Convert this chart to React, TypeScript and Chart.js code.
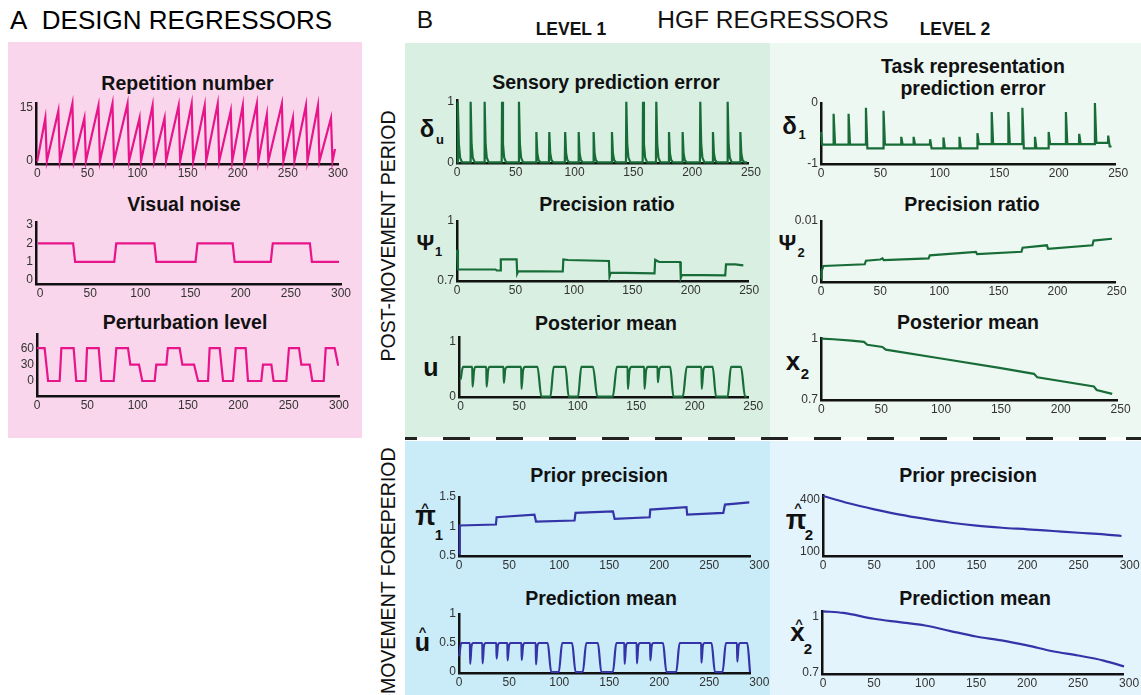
import React, { useEffect, useRef } from 'react';
import { Chart, registerables } from 'chart.js';
Chart.register(...registerables);

const FONT = '"Liberation Sans", Arial, Helvetica, sans-serif';
const PINK = 'rgb(232, 20, 138)';
const GREEN = 'rgb(24, 108, 56)';
const BLUE = 'rgb(52, 52, 168)';

type P = [number, number];

// ---------- Panel A data ----------
const ticks300 = [0, 50, 100, 150, 200, 250, 300];
const ticks250 = [0, 50, 100, 150, 200, 250];

const repetitionNumber: P[] = [
  [0, 0], [8, 12], [9.5, 0], [21, 14], [22.5, 0], [35, 16], [36.5, 0], [47, 12], [48.5, 0],
  [61, 15.5], [62.5, 0], [75, 16], [76.5, 0], [90, 16], [91.5, 0], [102, 12], [103.5, 0],
  [115, 15.5], [116.5, 0], [127, 12], [128.5, 0], [141, 15.5], [142.5, 0], [154, 16], [155.5, 0],
  [167, 15.5], [168.5, 0], [180, 16], [181.5, 0], [193, 14], [194.5, 0], [205, 15.5], [206.5, 0],
  [219, 16], [220.5, 0], [229, 13], [230.5, 0], [244, 16], [245.5, 0], [255, 12], [256.5, 0],
  [268, 15.5], [269.5, 0], [280, 15.5], [281.5, 0], [293, 12], [294.5, 0], [297, 3.4],
];

const visualNoise: P[] = [
  [-2, 2], [33, 2], [35, 1], [74, 1], [76, 2], [114, 2], [116, 1], [155, 1], [157, 2],
  [192, 2], [194, 1], [230, 1], [232, 2], [269, 2], [271, 1], [298, 1],
];

const perturbationLevel: P[] = [
  [0, 60], [7.6, 60], [11, 0], [22.5, 0], [24.2, 60], [36.4, 60], [39, 0], [48.3, 0], [49.7, 60], [61.3, 60],
  [63.9, 0], [76.2, 0], [78.8, 60], [90.4, 60], [92.7, 30], [101.3, 30], [104.6, 0], [116.9, 0], [118.5, 30], [128.5, 30],
  [130, 60], [141.7, 60], [144.4, 30], [156, 30], [160, 0], [169.9, 0], [171.5, 60], [181.5, 60], [184.8, 0], [194.7, 0],
  [197.4, 60], [207.3, 60], [209.6, 0], [222.8, 0], [224.5, 30], [232.8, 30], [235, 0], [247.7, 0], [250.3, 60], [260.3, 60],
  [262.6, 30], [270.9, 30], [273.5, 0], [284.8, 0], [286.8, 60], [295.7, 60], [299, 30], [300, 30],
];

// ---------- Panel B, post-movement ----------
// spikes: [trial, peak height]
const sensorySpikes: P[] = [
  [0.8, 1], [11.6, 1], [23.5, 1], [38.3, 1], [52.7, 1], [67.5, 0.5], [78.5, 0.5], [92, 0.5], [103.5, 0.5],
  [116.2, 0.5], [131.8, 0.5], [144, 1], [158.2, 1], [169.5, 1], [180.3, 0.5], [191.9, 0.5], [206.9, 1],
  [217.7, 0.5], [230.2, 1], [241, 0.5],
];
const sensoryEnd = 246.6;
const sensoryPE: P[] = [[0, 0]];
sensorySpikes.forEach(([x, h]) => {
  sensoryPE.push([x - 0.3, 0], [x, h], [x + 0.8, h * 0.3], [x + 1.8, h * 0.08], [x + 3.5, 0]);
});
sensoryPE.push([sensoryEnd, 0]);

const taskPE: P[] = [
  [0, -0.48], [1, -0.69],
  [10.4, -0.69], [10.6, -0.18], [11.8, -0.69],
  [23, -0.69], [23.2, -0.18], [24.4, -0.69],
  [37.6, -0.69], [37.8, -0.08], [39, -0.75],
  [52.4, -0.75], [52.6, -0.13], [53.8, -0.69],
  [67.3, -0.69], [67.5, -0.56], [68.7, -0.69],
  [77.7, -0.69], [77.9, -0.56], [79.1, -0.69],
  [91.6, -0.69], [91.8, -0.6], [93, -0.75],
  [102.8, -0.75], [103, -0.57], [104.2, -0.75],
  [116.3, -0.75], [116.5, -0.56], [117.7, -0.75],
  [131.4, -0.75], [131.6, -0.5], [132.8, -0.68],
  [143.4, -0.68], [143.6, -0.15], [144.8, -0.68],
  [157.4, -0.68], [157.6, -0.15], [158.8, -0.68],
  [169.2, -0.68], [169.4, -0.08], [170.6, -0.75],
  [179.8, -0.75], [180, -0.56], [181.2, -0.75],
  [191.3, -0.75], [191.5, -0.48], [192.7, -0.68],
  [205.8, -0.68], [206, -0.15], [207.2, -0.68],
  [217, -0.68], [217.2, -0.51], [218.4, -0.68],
  [230.2, -0.68], [230.4, 0], [231.6, -0.66],
  [241.4, -0.66], [241.6, -0.54], [242.8, -0.72],
  [244.4, -0.72],
];

const psi1: P[] = [
  [0, 0.855], [0.8, 0.755], [33, 0.755], [34, 0.75], [37, 0.75], [37.5, 0.806], [51, 0.806],
  [51.5, 0.734], [52.5, 0.747], [90.5, 0.745], [91, 0.806], [95, 0.803], [130, 0.798],
  [130.5, 0.72], [131.5, 0.739], [169, 0.736], [169.6, 0.804], [173, 0.793], [191, 0.793],
  [191.5, 0.713], [192.5, 0.728], [229.5, 0.725], [230.2, 0.781], [238, 0.781], [245, 0.776],
];

const psi2: P[] = [
  [0, 0.0003], [0.5, 0.0015], [2, 0.0024], [37, 0.0027], [38, 0.0033], [50, 0.0035], [52, 0.0037],
  [53, 0.0034], [91, 0.0037], [92, 0.0042], [131, 0.0048], [132, 0.0044], [169.5, 0.0048],
  [170.5, 0.0055], [191, 0.0059], [192, 0.0053], [229.5, 0.0059], [230.5, 0.0067], [246, 0.007],
];

const posteriorU: P[] = [
  [0, 0.31], [2, 0.54],
  [9.9, 0.54], [10.2, 0.18], [11.5, 0.48], [13, 0.54],
  [21.9, 0.54], [22.2, 0.18], [23.5, 0.48], [25, 0.54],
  [36.6, 0.54], [36.9, 0.25], [38.2, 0.5], [40, 0.54],
  [51.7, 0.54], [52, 0.14], [53.3, 0.47], [55, 0.54],
  [65.6, 0.54], [69, 0], [76.7, 0], [79.5, 0.54], [89.5, 0.54], [92.3, 0],
  [100.3, 0], [103.1, 0.54], [113, 0.54], [116.8, 0], [130, 0], [133.5, 0.54],
  [142.6, 0.54], [142.9, 0.14], [144.2, 0.47], [146, 0.54],
  [156.8, 0.54], [157.1, 0.14], [158.4, 0.47], [160, 0.54],
  [168.2, 0.54], [168.5, 0.26], [169.8, 0.5], [171.5, 0.54],
  [179, 0.54], [181.8, 0], [189.8, 0], [193.2, 0.54],
  [205.7, 0.54], [206, 0.14], [207.3, 0.47], [209, 0.54],
  [215.3, 0.54], [218.2, 0], [228.1, 0], [231, 0.54], [239.5, 0.54], [243, 0], [244.3, 0],
];

const posteriorX2: P[] = [
  [0, 1.0], [10, 0.997], [25, 0.99], [35.6, 0.984], [38.4, 0.97], [51, 0.959], [53.8, 0.946],
  [100, 0.903], [150, 0.856], [177.6, 0.828], [180.4, 0.811], [227.7, 0.766], [230, 0.749], [243, 0.73],
];

// ---------- Panel B, movement foreperiod ----------
const priorPi1: P[] = [
  [0, 0.53], [0.5, 1.017], [36.7, 1.034], [37.4, 1.157], [75.2, 1.202], [76.8, 1.084],
  [115.3, 1.101], [116.3, 1.23], [153.7, 1.258], [155.4, 1.129], [190.4, 1.157], [191, 1.287],
  [227.2, 1.326], [227.9, 1.202], [264, 1.23], [265.7, 1.371], [290, 1.41],
];

const predictionU: P[] = [
  [0, 0.27], [2, 0.5],
  [10.7, 0.5], [11, 0.14], [12.3, 0.45], [14, 0.5],
  [23.1, 0.5], [23.4, 0.15], [24.7, 0.45], [26.5, 0.5],
  [37.1, 0.5], [37.4, 0.23], [38.7, 0.46], [40.5, 0.5],
  [48.1, 0.5], [48.4, 0.2], [49.7, 0.45], [51.5, 0.5],
  [62.2, 0.5], [62.5, 0.21], [63.8, 0.45], [65.5, 0.5],
  [76.5, 0.5], [76.8, 0.13], [78.1, 0.45], [80, 0.5],
  [88.5, 0.5], [91.9, 0], [99.6, 0], [102.9, 0.5],
  [112.9, 0.5], [116.3, 0], [123.6, 0], [127, 0.5],
  [138.7, 0.5], [142, 0], [153.7, 0], [157, 0.5],
  [165.1, 0.5], [165.4, 0.14], [166.7, 0.45], [168.5, 0.5],
  [177.4, 0.5], [177.7, 0.15], [179, 0.45], [180.8, 0.5],
  [190.8, 0.5], [191.1, 0.2], [192.4, 0.45], [194.2, 0.5],
  [203.8, 0.5], [207.1, 0], [217, 0], [220.3, 0.5],
  [241.9, 0.5], [242.2, 0.16], [243.5, 0.45], [245.3, 0.5],
  [252.3, 0.5], [255.6, 0], [263.3, 0], [266.6, 0.5],
  [277.7, 0.5], [278, 0.18], [279.3, 0.45], [281, 0.5],
  [288, 0.5], [290.7, 0],
];

const priorPi2: P[] = [
  [0, 423], [25, 381], [50, 346], [75, 315], [100, 290], [125, 268], [150, 251],
  [175, 239], [200, 230], [225, 220], [250, 210], [275, 201], [292, 191],
];

const predictionX2: P[] = [
  [0, 1.027], [20, 1.018], [50, 0.987], [75, 0.969], [100, 0.951], [125, 0.921], [150, 0.892],
  [175, 0.871], [200, 0.844], [225, 0.813], [250, 0.79], [275, 0.763], [295, 0.732],
];

interface Spec {
  left: number; right: number; top: number; bottom: number;
  xMin: number; xMax: number; xTicks: number[];
  yMin: number; yMax: number; yTicks: number[];
  points: P[]; color: string; smooth?: boolean;
}

const PADL = 46, PADT = 12, PADR = 28, PADB = 22;

function MiniChart({ spec }: { spec: Spec }) {
  const ref = useRef<HTMLCanvasElement>(null);
  const w = Math.round(spec.right - spec.left + PADL + PADR);
  const h = Math.round(spec.bottom - spec.top + PADT + PADB);
  useEffect(() => {
    const chart = new Chart(ref.current as HTMLCanvasElement, {
      type: 'line',
      data: {
        datasets: [{
          data: spec.points.map(([x, y]) => ({ x, y })),
          borderColor: spec.color,
          borderWidth: 2.2,
          pointRadius: 0,
          fill: false,
          tension: 0,
          cubicInterpolationMode: spec.smooth ? 'monotone' : 'default',
          clip: false as any,
        }],
      },
      options: {
        animation: false,
        responsive: false,
        maintainAspectRatio: false,
        events: [],
        layout: { padding: { left: 0, top: PADT, right: PADR, bottom: 0 } },
        plugins: { legend: { display: false }, tooltip: { enabled: false } },
        scales: {
          x: {
            type: 'linear', min: spec.xMin, max: spec.xMax,
            afterFit: (s: any) => { s.height = PADB; },
            afterBuildTicks: (s: any) => { s.ticks = spec.xTicks.map((v) => ({ value: v })); },
            grid: { display: false, drawTicks: false },
            border: { display: true, color: '#111', width: 2.5 },
            ticks: {
              padding: 2, autoSkip: false, maxRotation: 0, color: '#333',
              font: { family: FONT, size: 12 },
              callback: (v: any) => String(v),
            },
          },
          y: {
            type: 'linear', min: spec.yMin, max: spec.yMax,
            afterFit: (s: any) => { s.width = PADL; },
            afterBuildTicks: (s: any) => { s.ticks = spec.yTicks.map((v) => ({ value: v })); },
            grid: { display: false, drawTicks: false },
            border: { display: true, color: '#111', width: 2.5 },
            ticks: {
              padding: 3, autoSkip: false, color: '#333',
              font: { family: FONT, size: 12 },
              callback: (v: any) => String(v),
            },
          },
        },
      } as any,
    });
    return () => chart.destroy();
  }, []);
  return (
    <canvas
      ref={ref}
      width={w}
      height={h}
      style={{ position: 'absolute', left: spec.left - PADL, top: spec.top - PADT, width: w, height: h }}
    />
  );
}

function T({ x, y, children, size = 19.5, bold = true, rot = false, color = '#111' }:
  { x: number; y: number; children: React.ReactNode; size?: number; bold?: boolean; rot?: boolean; color?: string }) {
  return (
    <div style={{
      position: 'absolute', left: x, top: y, whiteSpace: 'nowrap', lineHeight: 1,
      transform: rot ? 'translate(-50%,-50%) rotate(-90deg)' : 'translate(-50%,-50%)',
      fontFamily: FONT, fontSize: size, fontWeight: bold ? 700 : 400, color,
    }}>{children}</div>
  );
}

const charts: Spec[] = [
  { left: 36, right: 338, top: 102.5, bottom: 163, xMin: -1.3, xMax: 300, xTicks: ticks300, yMin: -0.8, yMax: 16.2, yTicks: [0, 15], points: repetitionNumber, color: PINK },
  { left: 35.5, right: 340.5, top: 221.7, bottom: 283.3, xMin: -4, xMax: 300, xTicks: ticks300, yMin: -0.21, yMax: 3.17, yTicks: [0, 1, 2, 3], points: visualNoise, color: PINK },
  { left: 37.3, right: 339.3, top: 334, bottom: 396, xMin: 0, xMax: 300, xTicks: ticks300, yMin: -27.5, yMax: 86, yTicks: [0, 30, 60], points: perturbationLevel, color: PINK },
  { left: 457, right: 748, top: 100, bottom: 162.7, xMin: 0, xMax: 247.5, xTicks: ticks250, yMin: -0.01, yMax: 1.03, yTicks: [0, 1], points: sensoryPE, color: GREEN },
  { left: 820.7, right: 1115, top: 102.7, bottom: 163.3, xMin: 0, xMax: 247.3, xTicks: ticks250, yMin: -1.01, yMax: 0, yTicks: [-1, 0], points: taskPE, color: GREEN },
  { left: 457.3, right: 748.3, top: 220.7, bottom: 280.7, xMin: 0, xMax: 249, xTicks: ticks250, yMin: 0.697, yMax: 1.0, yTicks: [0.7, 1], points: psi1, color: GREEN },
  { left: 820.7, right: 1115, top: 220.7, bottom: 281.7, xMin: 0, xMax: 248.6, xTicks: ticks250, yMin: -0.0003, yMax: 0.01, yTicks: [0, 0.01], points: psi2, color: GREEN },
  { left: 459, right: 748.3, top: 337.3, bottom: 397.7, xMin: -1.4, xMax: 245.5, xTicks: ticks250, yMin: -0.007, yMax: 1.08, yTicks: [0, 1], points: posteriorU, color: GREEN, smooth: true },
  { left: 820.7, right: 1116.7, top: 338.3, bottom: 400, xMin: -0.3, xMax: 247, xTicks: ticks250, yMin: 0.7, yMax: 1.003, yTicks: [0.7, 1], points: posteriorX2, color: GREEN },
  { left: 459.3, right: 750, top: 497.3, bottom: 556.7, xMin: -0.2, xMax: 290.7, xTicks: ticks300, yMin: 0.5, yMax: 1.5, yTicks: [0.5, 1, 1.5], points: priorPi1, color: BLUE },
  { left: 459.3, right: 750, top: 614, bottom: 673.3, xMin: -0.2, xMax: 290.7, xTicks: ticks300, yMin: -0.017, yMax: 1.0, yTicks: [0, 0.5, 1], points: predictionU, color: BLUE, smooth: true },
  { left: 822.7, right: 1121.7, top: 495, bottom: 556, xMin: -0.2, xMax: 292.5, xTicks: ticks300, yMin: 75, yMax: 429, yTicks: [100, 400], points: priorPi2, color: BLUE, smooth: true },
  { left: 821.7, right: 1123, top: 610.7, bottom: 673.3, xMin: -1, xMax: 294, xTicks: ticks300, yMin: 0.691, yMax: 1.0285, yTicks: [0.7, 1], points: predictionX2, color: BLUE, smooth: true },
];

function Box({ l, t, w, h, bg }: { l: number; t: number; w: number; h: number; bg: string }) {
  return <div style={{ position: 'absolute', left: l, top: t, width: w, height: h, background: bg }} />;
}

export default function App() {
  return (
    <div style={{ position: 'fixed', left: 0, top: 0, width: 1141, height: 695, overflow: 'hidden', background: '#fff', fontFamily: FONT }}>
      <Box l={8} t={42} w={354} h={395.5} bg="#fad6ec" />
      <Box l={405} t={43} w={365} h={394} bg="#d8efe2" />
      <Box l={770} t={43} w={371} h={394} bg="#eef8f2" />
      <Box l={405} t={441} w={365} h={254} bg="#c9ecf8" />
      <Box l={770} t={441} w={371} h={254} bg="#e3f4fc" />
      <div style={{
        position: 'absolute', left: 405, top: 437, width: 736, height: 3,
        background: 'repeating-linear-gradient(to right, #222 0px, #222 27px, transparent 27px, transparent 53px)',
        backgroundPosition: '-15px 0',
      }} />

      <div style={{ position: 'absolute', left: 10, top: 7, fontSize: 26, lineHeight: 1, whiteSpace: 'nowrap' }}>A&nbsp;&nbsp;DESIGN REGRESSORS</div>
      <T x={425} y={20} size={24.5} bold={false}>B</T>
      <T x={773} y={20} size={24.5} bold={false}>HGF REGRESSORS</T>
      <T x={571} y={30} size={17.5}>LEVEL 1</T>
      <T x={955} y={30} size={17.5}>LEVEL 2</T>

      <T x={389} y={236} size={19.5} bold={false} rot>POST-MOVEMENT PERIOD</T>
      <T x={389} y={594} size={19.5} bold={false} rot>PRE-MOVEMENT FOREPERIOD</T>

      <T x={187.5} y={84}>Repetition number</T>
      <T x={184} y={205}>Visual noise</T>
      <T x={185} y={323}>Perturbation level</T>
      <T x={606} y={83}>Sensory prediction error</T>
      <T x={973} y={67}>Task representation</T>
      <T x={973} y={89}>prediction error</T>
      <T x={607} y={205}>Precision ratio</T>
      <T x={972} y={205}>Precision ratio</T>
      <T x={606} y={324}>Posterior mean</T>
      <T x={968} y={323}>Posterior mean</T>
      <T x={599} y={476}>Prior precision</T>
      <T x={601} y={599}>Prediction mean</T>
      <T x={968} y={476}>Prior precision</T>
      <T x={975} y={599}>Prediction mean</T>

      {/* axis symbols */}
      <T x={427} y={129} size={24}>δ</T>
      <T x={440} y={139} size={13}>u</T>
      <T x={789.5} y={126} size={24}>δ</T>
      <T x={802} y={134} size={13}>1</T>
      <T x={425.5} y={243} size={22}>Ψ</T>
      <T x={438.5} y={251} size={13}>1</T>
      <T x={787.5} y={243} size={22}>Ψ</T>
      <T x={801} y={252} size={13}>2</T>
      <T x={431} y={367} size={25}>u</T>
      <T x={793} y={361} size={26}>x</T>
      <T x={805} y={373} size={15}>2</T>
      <T x={425.5} y={516} size={27}>π</T>
      <T x={425} y={507} size={13}>^</T>
      <T x={439} y={534} size={15}>1</T>
      <T x={422.5} y={642} size={25}>u</T>
      <T x={422.5} y={631} size={13}>^</T>
      <T x={796} y={520} size={27}>π</T>
      <T x={798} y={507} size={13}>^</T>
      <T x={809} y={534} size={15}>2</T>
      <T x={797.5} y={632} size={26}>x</T>
      <T x={799} y={623} size={13}>^</T>
      <T x={808} y={648} size={15}>2</T>

      {charts.map((s, i) => <MiniChart key={i} spec={s} />)}
    </div>
  );
}
